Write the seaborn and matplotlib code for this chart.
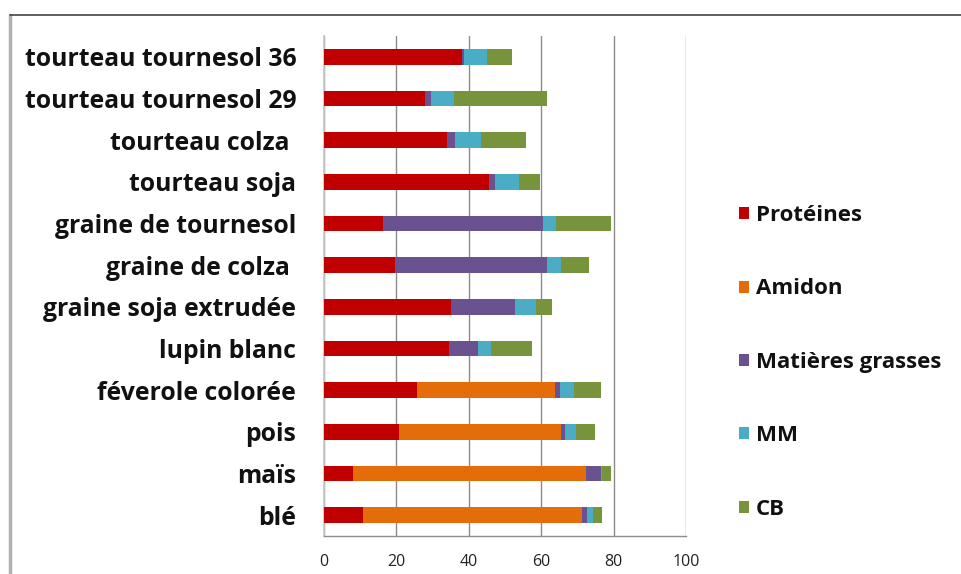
import matplotlib
matplotlib.use("Agg")
import matplotlib.pyplot as plt
import matplotlib.patches as mpatches
import numpy as np
import pandas as pd
import seaborn as sns

# Composition of feedstuffs (% of dry matter)
aliments = [
    "tourteau tournesol 36", "tourteau tournesol 29", "tourteau colza ",
    "tourteau soja", "graine de tournesol", "graine de colza ",
    "graine soja extrudée", "lupin blanc", "féverole colorée",
    "pois", "maïs", "blé",
]
proteines = [38.0, 28.0, 34.0, 45.6, 16.2, 19.6, 35.0, 34.6, 25.6, 20.6, 8.1, 10.7]
amidon = [0.0, 0.0, 0.0, 0.0, 0.0, 0.0, 0.0, 0.0, 38.2, 45.0, 64.4, 60.7]
matieres_grasses = [0.7, 1.6, 2.2, 1.6, 44.3, 41.9, 17.7, 8.0, 1.3, 1.1, 3.9, 1.3]
mm = [6.4, 6.4, 7.3, 6.7, 3.7, 4.1, 5.8, 3.5, 3.9, 3.0, 0.5, 1.5]
cb = [6.7, 25.5, 12.2, 5.9, 15.2, 7.6, 4.6, 11.4, 7.6, 5.1, 2.5, 2.5]

composantes = ["Protéines", "Amidon", "Matières grasses", "MM", "CB"]
couleurs = ["#C00000", "#E46C0A", "#6A5290", "#4BACC6", "#77933C"]

df = pd.DataFrame({
    "aliment": aliments,
    "Protéines": proteines,
    "Amidon": amidon,
    "Matières grasses": matieres_grasses,
    "MM": mm,
    "CB": cb,
})
cumul = df[composantes].cumsum(axis=1)

sns.set_theme(style="white")
plt.rcParams["font.family"] = ["Open Sans", "DejaVu Sans"]

fig = plt.figure(figsize=(9.61, 5.74), dpi=100)
ax = fig.add_axes([324 / 961, 1 - 536 / 574, (686 - 324) / 961, (536 - 36) / 574])

# stacked bars: draw cumulative totals from the outermost segment inwards
for comp, col in reversed(list(zip(composantes, couleurs))):
    sns.barplot(x=cumul[comp], y=df["aliment"], orient="h", color=col,
                width=0.38, saturation=1, ax=ax, zorder=3, linewidth=0)

ax.set_xlim(0, 100)
ax.set_ylim(len(aliments) - 0.5, -0.5)
ax.set_xticks(np.arange(0, 101, 20))
ax.set_xlabel("")
ax.set_ylabel("")

ax.grid(axis="x", color="#8c8c8c", linewidth=1.0, zorder=0)
ax.grid(axis="y", visible=False)

for side in ["top", "right"]:
    ax.spines[side].set_visible(False)
ax.spines["left"].set_color("#c8c8c8")
ax.spines["bottom"].set_color("#8c8c8c")
ax.spines["bottom"].set_linewidth(1.0)

ax.tick_params(axis="x", length=0, pad=13, labelsize=11.5, colors="#222222")
ax.tick_params(axis="y", length=0, pad=20, labelsize=17.8)
for lbl in ax.get_yticklabels():
    lbl.set_fontweight("bold")
    lbl.set_color("#111111")

# category separators on the vertical axis
ax.set_yticks(np.arange(-0.5, len(aliments), 1), minor=True)
ax.tick_params(axis="y", which="minor", length=8, width=0.8, color="#a0a0a0", direction="out")

# legend
handles = [mpatches.Patch(facecolor=c, edgecolor="none", label=l)
           for l, c in zip(composantes, couleurs)]
leg = fig.legend(handles=handles, loc="upper left", bbox_to_anchor=(719 / 961, 1 - 185 / 574),
                 frameon=False, handlelength=0.45, handleheight=0.45, handletextpad=0.3,
                 labelspacing=2.36, prop={"weight": "bold", "size": 16})
for t in leg.get_texts():
    t.set_color("#111111")

# outer frame
fig.add_artist(plt.Line2D([10 / 961, 10 / 961], [0, 1 - 15 / 574], transform=fig.transFigure,
                          color="#b0b0b0", linewidth=2.5))
fig.add_artist(plt.Line2D([10 / 961, 1], [1 - 15 / 574, 1 - 15 / 574], transform=fig.transFigure,
                          color="#444444", linewidth=1.2))

fig.savefig("out.png", dpi=100)
